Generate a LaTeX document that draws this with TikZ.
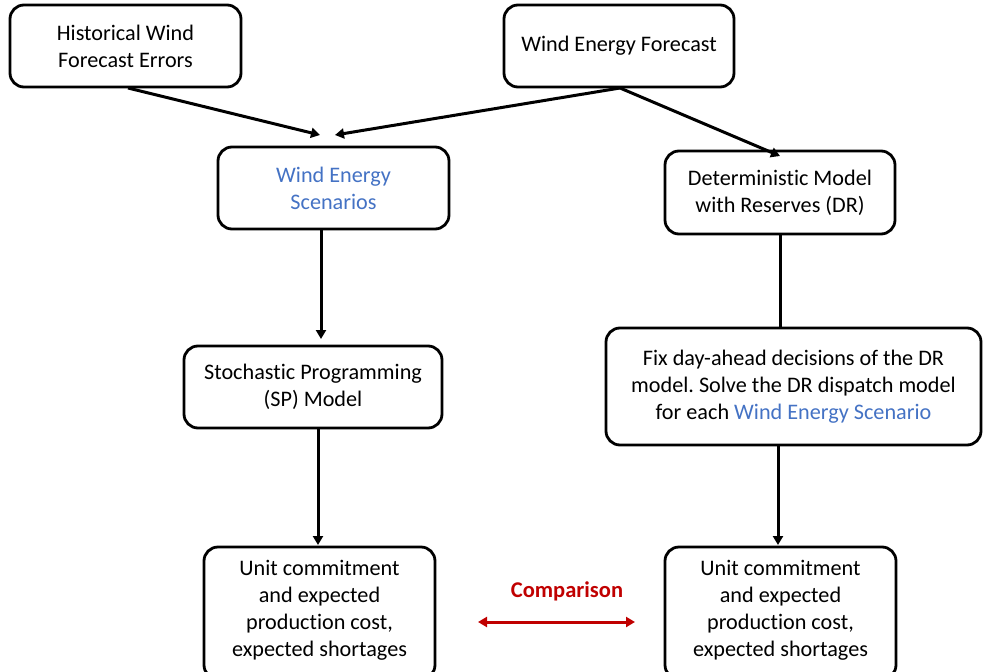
\documentclass[tikz,border=0pt]{standalone}
\usepackage{fontspec}
\setmainfont[Ligatures=NoCommon]{Carlito}
\usetikzlibrary{arrows.meta}
\definecolor{wblue}{HTML}{4472C4}
\definecolor{cred}{HTML}{C00000}
\frenchspacing
\begin{document}
\begin{tikzpicture}[x=1pt,y=-1pt,
  box/.style={draw=black,line width=2.8pt,rounded corners=14pt,align=center,
    font=\fontsize{22.2}{27}\selectfont,inner sep=0pt},
  conn/.style={line width=3pt,-{Triangle[length=9pt,width=10pt]}},
  plain/.style={line width=3pt}]
\useasboundingbox (0,0) rectangle (983,672);
\clip (0,0) rectangle (983,672);
\node[box,minimum width=231pt,minimum height=82pt] (hist) at (125.5,46) {Historical Wind\\Forecast Errors};
\node[box,minimum width=230pt,minimum height=82pt] (fore) at (619,46) {Wind Energy Forecast};
\node[box,minimum width=231pt,minimum height=82pt,text=wblue] (scen) at (333.5,188) {Wind Energy\\Scenarios};
\node[box,minimum width=230pt,minimum height=83pt] (dr) at (780,192.5) {Deterministic Model\\with Reserves (DR)};
\node[box,minimum width=258pt,minimum height=82pt] (sp) at (313,387) {Stochastic Programming\\(SP) Model};
\node[box,minimum width=375pt,minimum height=117pt] (fix) at (793.5,386.5) {Fix day-ahead decisions of the DR\\model. Solve the DR dispatch model\\for each \textcolor{wblue}{Wind Energy Scenario}};
\node[box,minimum width=231pt,minimum height=132pt] (ul) at (319.5,613) {};
\node[box,minimum width=231pt,minimum height=132pt] (ur) at (780.5,613) {};
\node[align=center,font=\fontsize{22.2}{27}\selectfont,anchor=north] (ult) at (319.5,557) {Unit commitment\\and expected\\production cost,\\expected shortages};
\node[align=center,font=\fontsize{22.2}{27}\selectfont,anchor=north] (urt) at (780.5,557) {Unit commitment\\and expected\\production cost,\\expected shortages};
\node[font=\bfseries\fontsize{22.5}{27}\selectfont,text=cred] (cmp) at (567,591) {Comparison};
\coordinate (h0) at (128,88);
\coordinate (f0) at (620,88);
\coordinate (s0) at (321,229);
\draw[conn] (h0) -- (320,135);
\draw[conn] (f0) -- (335,135);
\draw[conn] (f0) -- (780,156);
\draw[conn] (s0) -- (321,339);
\draw[conn] (318,428) -- (318,545);
\draw[plain] (780,234) -- (780,328);
\draw[conn] (778,445) -- (778,545);
\coordinate (ca) at (478,622);
\coordinate (cb) at (635,622);
\draw[line width=3pt,draw=cred,{Triangle[length=9pt,width=10pt]}-{Triangle[length=9pt,width=10pt]}] (ca) -- (cb);
\end{tikzpicture}
\end{document}
